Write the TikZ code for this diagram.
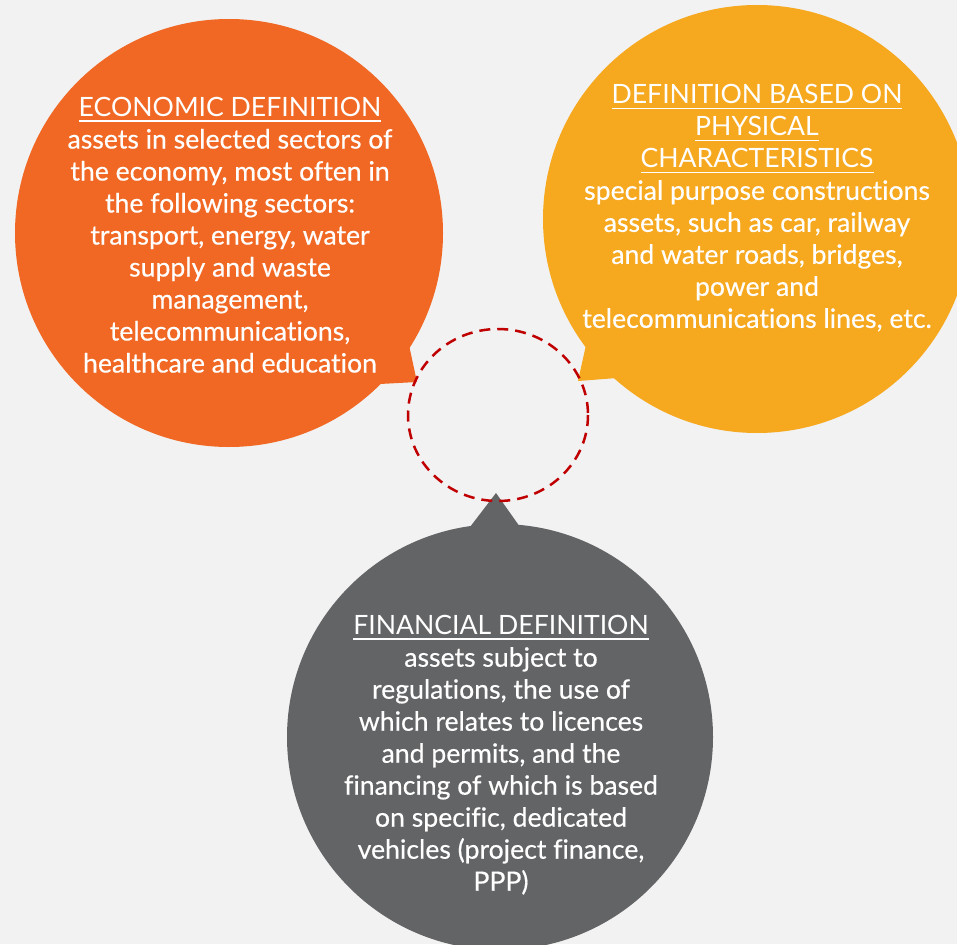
\documentclass[tikz,border=0pt]{standalone}
\usepackage{fontspec}
\setmainfont{Lato}[Ligatures={NoCommon,NoRare,NoContextual}]
\newfontfamily\bodyfont{Lato}[FakeBold=0.45,Ligatures={NoCommon,NoRare,NoContextual}]
\newfontfamily\titlefont{Lato}[Ligatures={NoCommon,NoRare,NoContextual}]
\definecolor{bgc}{RGB}{242,242,242}
\definecolor{orangec}{RGB}{240,104,35}
\definecolor{yellowc}{RGB}{246,168,30}
\definecolor{grayc}{RGB}{99,100,102}
\definecolor{redc}{RGB}{192,0,0}
\newcommand\ttl[1]{{\titlefont\leavevmode\setbox0\hbox{#1}\rlap{\color{white}\rule[-5pt]{\wd0}{1.2pt}}\box0}}
\tikzset{
  bubtext/.style={text=white, align=center, inner sep=0pt, font=\bodyfont\fontsize{26.6}{32}\selectfont},
  dashring/.style={draw=redc, line width=2.5pt, dash pattern=on 11pt off 7pt}
}
\begin{document}
\begin{tikzpicture}[x=1pt,y=-1pt]
\useasboundingbox (0,0) rectangle (957,944);
\clip (0,0) rectangle (957,944);
\fill[bgc] (0,0) rectangle (957,944);
% orange bubble
\fill[orangec] (229,233) circle[radius=214];
\fill[orangec] (409,345) -- (417,382) -- (380,384) -- cycle;
% yellow bubble
\fill[yellowc] (757,219) circle[radius=214];
\fill[yellowc] (586,345) -- (578,381) -- (617,378) -- cycle;
% gray bubble
\fill[grayc] (500,737) circle[radius=213];
\fill[grayc] (470,527) -- (496,493) -- (520,527) -- cycle;
% dashed ring
\coordinate (ringc) at (498,415);
\draw[dashring] (ringc) ellipse[x radius=90, y radius=86];
% texts
\node[bubtext] (otext) at (230,235) {\ttl{ECONOMIC DEFINITION}\\assets in selected sectors of\\the economy, most often in\\the following sectors:\\transport, energy, water\\supply and waste\\management,\\telecommunications,\\healthcare and education};
\node[bubtext] (ytext) at (757,208) {\ttl{DEFINITION BASED ON}\\\ttl{PHYSICAL}\\\ttl{CHARACTERISTICS}\\special purpose constructions\\assets, such as car, railway\\and water roads, bridges,\\power and\\telecommunications lines, etc.};
\node[bubtext] (gtext) at (501,755) {\ttl{FINANCIAL DEFINITION}\\assets subject to\\regulations, the use of\\which relates to licences\\and permits, and the\\financing of which is based\\on specific, dedicated\\vehicles (project finance,\\PPP)};
\end{tikzpicture}
\end{document}
